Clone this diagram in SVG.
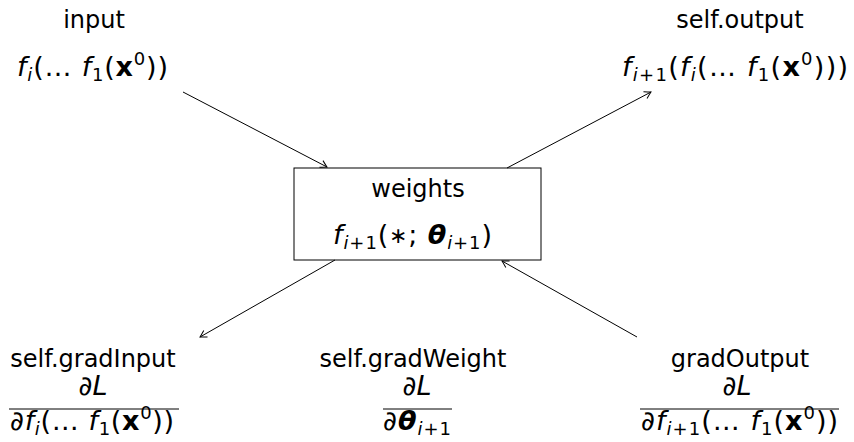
<svg xmlns="http://www.w3.org/2000/svg" width="854" height="442" viewBox="0 0 854 442">
<defs>
<style>
text{font-family:"DejaVu Sans",sans-serif;font-size:24px;fill:#000}
.m{font-size:27px}
.it{font-style:italic}
.b{font-weight:bold}
.s{font-size:18px}
.st{font-size:22px}
.conn line{stroke:#000;stroke-width:1;fill:none;marker-end:url(#ah)}
</style>
<marker id="ah" viewBox="-8 -5 10 10" refX="0" refY="0" markerWidth="10" markerHeight="10" markerUnits="userSpaceOnUse" orient="auto">
<path d="M-6.5,-3.8 Q-2,-1 0,0 Q-2,1 -6.5,3.8" fill="none" stroke="#000" stroke-width="1"/>
</marker>
</defs>
<rect width="854" height="442" fill="#fff"/>
<g class="conn" id="connectors">
<line x1="183" y1="92" x2="327" y2="167"/>
<line x1="507" y1="168" x2="651" y2="92"/>
<line x1="335" y1="260" x2="200" y2="337"/>
<line x1="637" y1="337" x2="502" y2="261"/>
</g>
<g id="input">
<text x="94" y="28" text-anchor="middle">input</text>
<text class="m" x="17" y="76" textLength="151" lengthAdjust="spacing"><tspan class="it">f</tspan><tspan class="s it" dy="5">i</tspan><tspan dy="-5">(… </tspan><tspan class="it">f</tspan><tspan class="s" dy="5">1</tspan><tspan dy="-5">(</tspan><tspan class="b">x</tspan><tspan class="s" dy="-11">0</tspan><tspan dy="11">))</tspan></text>
</g>
<g id="output">
<text x="740" y="28" text-anchor="middle">self.output</text>
<text class="m" x="622" y="76" textLength="226" lengthAdjust="spacing"><tspan class="it">f</tspan><tspan class="s" dy="5"><tspan class="it">i</tspan>+1</tspan><tspan dy="-5">(</tspan><tspan class="it">f</tspan><tspan class="s it" dy="5">i</tspan><tspan dy="-5">(… </tspan><tspan class="it">f</tspan><tspan class="s" dy="5">1</tspan><tspan dy="-5">(</tspan><tspan class="b">x</tspan><tspan class="s" dy="-11">0</tspan><tspan dy="11">)))</tspan></text>
</g>
<g id="weights">
<rect x="294" y="168" width="247" height="92" fill="none" stroke="#000" stroke-width="1"/>
<text x="418" y="197" text-anchor="middle">weights</text>
<text class="m" x="333" y="244" textLength="159" lengthAdjust="spacing"><tspan class="it">f</tspan><tspan class="s" dy="5"><tspan class="it">i</tspan>+1</tspan><tspan dy="-5">(</tspan><tspan class="st" font-family="Liberation Sans, sans-serif" dy="-1">∗</tspan><tspan dy="1">; </tspan><tspan class="b it">θ</tspan><tspan class="s" dy="5"><tspan class="it">i</tspan>+1</tspan><tspan dy="-5">)</tspan></text>
</g>
<g id="gradInput">
<text x="93" y="367" text-anchor="middle">self.gradInput</text>
<text class="m" x="93" y="395" text-anchor="middle">∂<tspan class="it">L</tspan></text>
<line x1="9" y1="409" x2="179" y2="409" stroke="#000" stroke-width="1"/>
<text class="m" x="10" y="430" textLength="164" lengthAdjust="spacing">∂<tspan class="it">f</tspan><tspan class="s it" dy="5">i</tspan><tspan dy="-5">(… </tspan><tspan class="it">f</tspan><tspan class="s" dy="5">1</tspan><tspan dy="-5">(</tspan><tspan class="b">x</tspan><tspan class="s" dy="-11">0</tspan><tspan dy="11">))</tspan></text>
</g>
<g id="gradWeight">
<text x="413" y="367" text-anchor="middle">self.gradWeight</text>
<text class="m" x="417" y="395" text-anchor="middle">∂<tspan class="it">L</tspan></text>
<line x1="383" y1="409" x2="452" y2="409" stroke="#000" stroke-width="1"/>
<text class="m" x="383" y="430" textLength="68" lengthAdjust="spacing">∂<tspan class="b it">θ</tspan><tspan class="s" dy="5"><tspan class="it">i</tspan>+1</tspan></text>
</g>
<g id="gradOutput">
<text x="740" y="367" text-anchor="middle">gradOutput</text>
<text class="m" x="737" y="395" text-anchor="middle">∂<tspan class="it">L</tspan></text>
<line x1="640" y1="409" x2="839" y2="409" stroke="#000" stroke-width="1"/>
<text class="m" x="641" y="430" textLength="197" lengthAdjust="spacing">∂<tspan class="it">f</tspan><tspan class="s" dy="5"><tspan class="it">i</tspan>+1</tspan><tspan dy="-5">(… </tspan><tspan class="it">f</tspan><tspan class="s" dy="5">1</tspan><tspan dy="-5">(</tspan><tspan class="b">x</tspan><tspan class="s" dy="-11">0</tspan><tspan dy="11">))</tspan></text>
</g>
</svg>
